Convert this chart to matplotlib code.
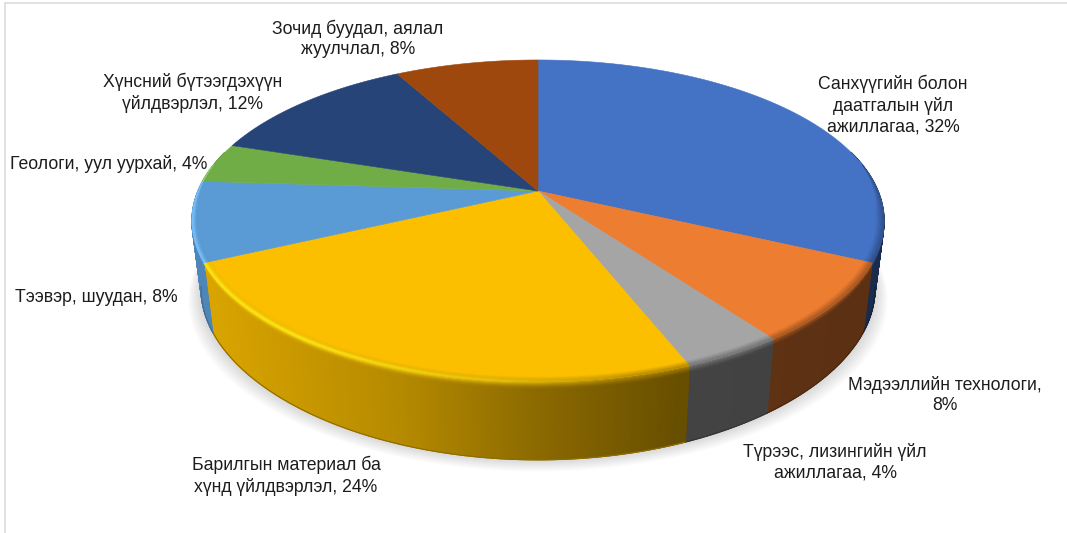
import numpy as np
import matplotlib
matplotlib.use('Agg')
import matplotlib.pyplot as plt
from matplotlib.collections import PolyCollection
from matplotlib.colors import to_rgb
from matplotlib.patches import Polygon, Rectangle

plt.rcParams['font.family'] = ['Liberation Sans', 'DejaVu Sans']

labels = ['Санхүүгийн болон\nдаатгалын үйл\nажиллагаа, 32%',
          'Мэдээллийн технологи,\n8%',
          'Түрээс, лизингийн үйл\nажиллагаа, 4%',
          'Барилгын материал ба\nхүнд үйлдвэрлэл, 24%',
          'Тээвэр, шуудан, 8%',
          'Геологи, уул уурхай, 4%',
          'Хүнсний бүтээгдэхүүн\nүйлдвэрлэл, 12%',
          'Зочид буудал, аялал\nжуулчлал, 8%']
values = [32, 8, 4, 24, 8, 4, 12, 8]
colors = ['#4472C4', '#ED7D31', '#A5A5A5', '#FCBF00',
          '#5B9BD5', '#70AD47', '#264478', '#9E480E']
label_x = [893, 945, 835, 286, 96, 109, 193, 358]
label_y = [105, 395, 462, 476, 297, 164, 93, 39]

CX = 538


def top_xy(theta, r=1.0):
    # perspective view of the upper disc, theta clockwise from 12 o'clock
    X, Y = r * np.sin(theta), r * np.cos(theta)
    w = 1 + 0.186 * Y
    return CX + 340 * X / w, 191 - 155.4 * Y / w


def bottom_xy(theta):
    X, Y = np.sin(theta), np.cos(theta)
    return CX + 331 * X / (1 + 0.186 * Y), 258.5 - 157 * Y / (1 + 0.22 * Y)


def side_xy(theta, t):
    # t = 0 on the upper rim, t = 1 on the lower rim
    x0, y0 = top_xy(theta)
    x1, y1 = bottom_xy(theta)
    return x0 + (x1 - x0) * t, y0 + (y1 - y0) * t


def side_colour(rgb, x):
    # sides darken from left to right
    f = np.interp(x, [190, 212, 400, 540, 680, 900], [.87, .86, .72, .55, .41, .38])
    return np.array(rgb) * f


def bevel_width(theta):
    # the bevel narrows to nothing where the rim turns to the back
    return np.clip((100 - abs(np.degrees(theta) - 180)) / 18, 0, 1)


fig = plt.figure(figsize=(10.67, 5.33), dpi=100)
ax = fig.add_axes([0, 0, 1, 1])
ax.set_xlim(0, 1067)
ax.set_ylim(533, 0)
ax.axis('off')

# thin chart frame, only top and left are inside the canvas
ax.add_patch(Rectangle((5, 3), 1200, 700, fc='white', ec='#dcdcdc', lw=1.2, zorder=0))

fractions = np.cumsum([0] + values) / sum(values)
edges = fractions * 2 * np.pi

# soft shadow under the pie
t_all = np.linspace(np.pi * 0.4, np.pi * 1.6, 200)
bx, by = bottom_xy(t_all)
for grow in np.linspace(13, 1, 13):
    pts = np.column_stack([CX + (bx - CX) * (1 + grow / 340), by + grow * 0.9])
    pts = np.vstack([pts, [[CX - 300, 200], [CX + 300, 200]]])
    ax.add_patch(Polygon(pts, closed=True, fc='#808080', ec='none', alpha=0.024, zorder=1))

# side walls, built from thin strips
side_polys, side_cols = [], []
for i, c in enumerate(colors):
    rgb = to_rgb(c)
    a = max(edges[i], np.radians(75))
    b = min(edges[i + 1], np.radians(285))
    if b <= a:
        continue
    th = np.append(np.arange(a, b, np.radians(0.4)), b)
    for t0, t1 in zip(th[:-1], th[1:]):
        x0, y0 = side_xy(t0, 0)
        x1, y1 = side_xy(t1, 0)
        x2, y2 = side_xy(t1, 1)
        x3, y3 = side_xy(t0, 1)
        side_polys.append([(x0, y0), (x1, y1), (x2, y2), (x3, y3)])
        side_cols.append(side_colour(rgb, (x0 + x1 + x2 + x3) / 4))
side_walls = PolyCollection(side_polys, facecolors=side_cols, edgecolors=side_cols,
                            linewidths=0.9, zorder=2)
side_walls.set_snap(False)
ax.add_collection(side_walls)

# darker line along the lower rim
for i, c in enumerate(colors):
    a = max(edges[i], np.radians(100))
    b = min(edges[i + 1], np.radians(260))
    if b <= a:
        continue
    th = np.linspace(a, b, 120)
    x, y = bottom_xy(th)
    ax.plot(x, y, color=side_colour(to_rgb(c), x.mean()) * 0.8, lw=0.8, zorder=3)

# bevel around the front rim: shadow on the right, highlight on the left
inner_polys, inner_cols, outer_polys, outer_cols = [], [], [], []
layers = np.linspace(-1, 1, 15)
for i, c in enumerate(colors):
    rgb = np.array(to_rgb(c))
    a = max(edges[i], np.radians(80))
    b = min(edges[i + 1], np.radians(280))
    if b <= a:
        continue
    th = np.append(np.arange(a, b, np.radians(0.6)), b)
    bright = np.minimum(1, rgb * 1.1 + 0.1)
    for t0, t1 in zip(th[:-1], th[1:]):
        for u0, u1 in zip(layers[:-1], layers[1:]):
            pts = []
            for tt, u in ((t0, u0), (t1, u0), (t1, u1), (t0, u1)):
                w = bevel_width(tt)
                if u < 0:
                    pts.append(top_xy(tt, 1 + 0.022 * u * w))
                else:
                    pts.append(side_xy(tt, 0.09 * u))
            xm = np.mean([p[0] for p in pts])
            um = (u0 + u1) / 2
            m = (um + 1) / 2
            col = (1 - m) * rgb + m * side_colour(rgb, xm)
            h = np.interp(xm, [190, 300, 500, 640], [0.95, 0.95, 0.45, 0])
            k = h * np.exp(-(um / 0.4) ** 2)
            col = col * (1 - k) + bright * k
            if um < 0:
                inner_polys.append(pts)
                inner_cols.append(col)
            else:
                outer_polys.append(pts)
                outer_cols.append(col)
outer_band = PolyCollection(outer_polys, facecolors=outer_cols, edgecolors=outer_cols,
                            linewidths=0.3, zorder=3.5)
outer_band.set_snap(False)
ax.add_collection(outer_band)

# upper face of every slice
for i, c in enumerate(colors):
    th = np.linspace(edges[i], edges[i + 1], 200)
    x, y = top_xy(th)
    verts = np.column_stack([np.r_[CX, x], np.r_[191, y]])
    ax.add_patch(Polygon(verts, closed=True, fc=c, ec=c, lw=0.4, zorder=4))

inner_band = PolyCollection(inner_polys, facecolors=inner_cols, edgecolors=inner_cols,
                            linewidths=0.3, zorder=5)
inner_band.set_snap(False)
ax.add_collection(inner_band)

for lab, lx, ly in zip(labels, label_x, label_y):
    ax.text(lx, ly, lab, ha='center', va='center', fontsize=12.7, color='#1c1c1c',
            linespacing=1.26, zorder=6)

fig.savefig('out.png', dpi=100, facecolor='white')
